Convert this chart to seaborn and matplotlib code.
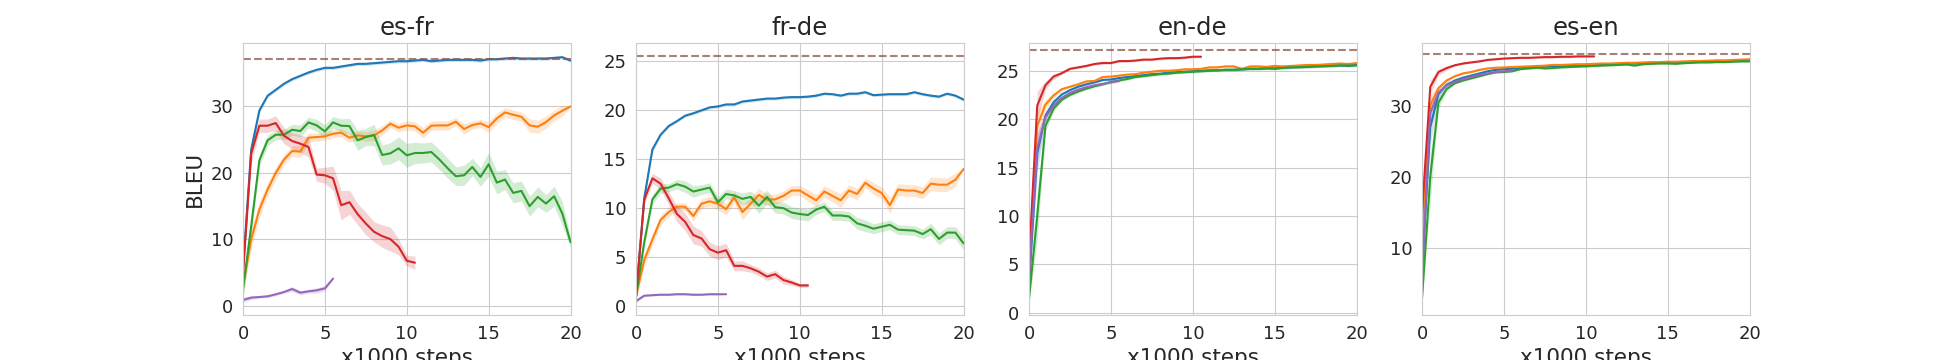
import numpy as np
import seaborn as sns
import matplotlib
matplotlib.use("Agg")
import matplotlib.pyplot as plt

# x axis: evaluation every 500 steps
steps = np.arange(0, 20.5, 0.5)
panels = ["es-fr", "fr-de", "en-de", "es-en"]
baselines = [37.2, 25.6, 27.1, 37.3]

# ---------------- es-fr ----------------
esfr_blue = [5.5, 23.5, 29.4, 31.6, 32.5, 33.4, 34.1, 34.6, 35.1, 35.5, 35.8, 35.8, 36.0, 36.2, 36.4, 36.4, 36.5, 36.6, 36.7, 36.8,
             36.8, 36.9, 37.0, 36.8, 36.9, 37.0, 37.0, 37.0, 37.0, 36.9, 37.1, 37.1, 37.2, 37.3, 37.2, 37.2, 37.2, 37.2, 37.3, 37.4, 36.9]
esfr_orange = [3.0, 10.0, 14.5, 17.5, 20.0, 22.0, 23.3, 23.2, 25.3, 25.4, 25.5, 25.9, 26.05, 25.3, 25.65, 25.5, 25.65, 26.4, 27.4, 26.8,
               27.15, 27.0, 26.05, 27.1, 27.15, 27.15, 27.7, 26.6, 27.2, 27.45, 26.9, 28.2, 29.1, 28.75, 28.45, 27.15, 26.95, 27.65, 28.65, 29.35, 30.0]
esfr_green = [2.5, 12.0, 21.9, 24.9, 25.75, 25.75, 26.5, 26.3, 27.6, 27.15, 26.25, 27.6, 27.1, 27.05, 24.9, 25.4, 25.7, 22.7, 22.95, 23.7,
              22.65, 23.0, 23.0, 23.15, 22.0, 20.7, 19.5, 19.65, 20.9, 19.4, 21.3, 18.55, 19.0, 17.0, 17.3, 15.0, 16.4, 15.4, 16.5, 13.9, 9.6]
esfr_red = [5.0, 22.9, 27.1, 27.1, 27.5, 25.6, 24.8, 24.4, 23.9, 19.75, 19.65, 19.2, 15.15, 15.6, 13.8, 12.4, 11.15, 10.5, 10.05, 8.9, 6.8, 6.5]
esfr_purple = [0.9, 1.25, 1.35, 1.45, 1.75, 2.1, 2.55, 2.0, 2.2, 2.35, 2.65, 4.1]

esfr_blue_sd = [1.0, 1.2, 0.5] + [0.25] * 38
esfr_orange_sd = [1.5, 1.5, 1.2, 1.0, 0.9, 0.8, 0.8, 0.9, 0.7, 0.6, 0.6, 0.6, 0.6, 0.7, 0.7, 0.7, 0.8, 0.7, 0.6, 0.6,
                  0.7, 0.7, 0.8, 0.7, 0.7, 0.7, 0.6, 0.8, 0.6, 0.6, 0.8, 0.8, 0.7, 0.7, 0.7, 1.0, 1.0, 0.9, 0.8, 0.8, 0.0]
esfr_green_sd = [1.5, 1.5, 1.0, 0.8, 0.7, 0.8, 0.8, 0.9, 0.8, 0.9, 1.0, 0.9, 1.0, 1.2, 1.5, 1.3, 1.6, 1.5, 1.6, 1.7,
                 1.8, 1.6, 1.5, 1.5, 1.5, 1.5, 1.4, 1.5, 1.3, 1.4, 1.8, 1.7, 1.5, 1.5, 1.5, 1.5, 1.5, 1.3, 1.5, 1.8, 0.8]
esfr_red_sd = [1.5, 1.5, 1.0, 1.0, 1.1, 1.2, 1.2, 1.3, 1.5, 1.0, 1.2, 1.8, 2.2, 1.8, 1.6, 1.7, 1.5, 1.7, 1.8, 1.2, 0.8, 1.0]
esfr_purple_sd = [0.4, 0.3, 0.2, 0.2, 0.2, 0.2, 0.4, 0.3, 0.3, 0.4, 0.4, 0.0]

# ---------------- fr-de ----------------
frde_blue = [1.0, 11.0, 16.0, 17.5, 18.4, 18.9, 19.45, 19.7, 20.0, 20.3, 20.4, 20.6, 20.6, 20.9, 21.0, 21.1, 21.2, 21.2, 21.3, 21.35,
             21.35, 21.4, 21.5, 21.7, 21.65, 21.5, 21.7, 21.7, 21.85, 21.55, 21.6, 21.65, 21.65, 21.65, 21.85, 21.65, 21.5, 21.4, 21.7, 21.5, 21.1]
frde_orange = [1.0, 4.7, 6.8, 8.8, 9.6, 10.15, 10.15, 9.2, 10.45, 10.7, 10.45, 9.9, 11.1, 9.6, 10.45, 11.35, 10.85, 10.9, 11.25, 11.8,
               11.8, 11.3, 10.8, 11.7, 11.25, 10.8, 11.8, 11.45, 12.6, 12.0, 11.55, 10.3, 11.9, 11.8, 11.8, 11.55, 12.5, 12.4, 12.4, 12.9, 14.0]
frde_green = [1.0, 6.5, 10.9, 12.0, 12.1, 12.45, 12.2, 11.7, 11.9, 12.1, 10.6, 11.45, 11.3, 10.95, 11.15, 10.25, 11.15, 10.1, 10.0, 9.55,
              9.4, 9.3, 9.85, 10.15, 9.25, 9.25, 9.15, 8.45, 8.2, 7.9, 8.1, 8.3, 7.8, 7.75, 7.7, 7.35, 7.85, 6.85, 7.5, 7.5, 6.4]
frde_red = [1.0, 10.85, 13.05, 12.5, 11.0, 9.4, 8.6, 7.25, 6.9, 5.8, 5.45, 5.7, 4.1, 4.1, 3.85, 3.5, 3.0, 3.25, 2.65, 2.4, 2.1, 2.1]
frde_purple = [0.5, 1.05, 1.1, 1.15, 1.15, 1.2, 1.2, 1.15, 1.15, 1.2, 1.2, 1.2]

frde_blue_sd = [0.5, 0.5, 0.3] + [0.15] * 38
frde_orange_sd = [0.5, 0.6, 0.6, 0.5, 0.5, 0.4, 0.4, 0.5, 0.5, 0.5, 0.6, 0.6, 0.6, 0.8, 0.6, 0.7, 0.6, 0.5, 0.5, 0.5,
                  0.5, 0.6, 0.6, 0.6, 0.6, 0.7, 0.6, 0.6, 0.5, 0.6, 0.6, 0.8, 0.6, 0.6, 0.6, 0.6, 0.7, 0.7, 0.7, 0.7, 0.0]
frde_green_sd = [0.5, 0.6, 0.5, 0.5, 0.4, 0.5, 0.6, 0.6, 0.5, 0.5, 0.6, 0.5, 0.5, 0.6, 0.6, 0.8, 0.7, 0.6, 0.6, 0.6,
                 0.6, 0.6, 0.5, 0.5, 0.5, 0.5, 0.5, 0.6, 0.6, 0.5, 0.5, 0.5, 0.5, 0.5, 0.5, 0.5, 0.6, 0.6, 0.6, 0.6, 0.7]
frde_red_sd = [0.5, 0.5, 0.5, 0.6, 0.7, 0.8, 0.9, 0.9, 0.8, 0.7, 0.7, 0.7, 0.5, 0.5, 0.4, 0.4, 0.4, 0.4, 0.4, 0.3, 0.2, 0.2]
frde_purple_sd = [0.16, 0.1, 0.08, 0.08, 0.08, 0.08, 0.08, 0.08, 0.08, 0.08, 0.08, 0.0]

# ---------------- en-de ----------------
ende_blue = [3.0, 16.5, 20.35, 21.75, 22.55, 23.0, 23.35, 23.6, 23.8, 24.05, 24.1, 24.25, 24.35, 24.45, 24.55, 24.65, 24.7, 24.8, 24.85, 24.9,
             24.95, 25.0, 25.05, 25.05, 25.1, 25.1, 25.15, 25.2, 25.2, 25.25, 25.25, 25.3, 25.35, 25.4, 25.4, 25.45, 25.5, 25.5, 25.55, 25.5, 25.6]
ende_orange = [4.0, 19.3, 21.5, 22.45, 23.1, 23.35, 23.6, 23.9, 23.95, 24.35, 24.4, 24.5, 24.6, 24.65, 24.8, 24.9, 25.0, 25.0, 25.05, 25.15,
               25.15, 25.2, 25.35, 25.35, 25.45, 25.45, 25.2, 25.45, 25.45, 25.4, 25.5, 25.45, 25.5, 25.55, 25.6, 25.6, 25.65, 25.7, 25.75, 25.7, 25.8]
ende_green = [1.5, 10.0, 19.3, 21.1, 22.0, 22.5, 22.85, 23.15, 23.4, 23.6, 23.85, 24.0, 24.15, 24.35, 24.45, 24.55, 24.65, 24.7, 24.8, 24.85,
              24.9, 24.95, 25.0, 25.05, 25.1, 25.1, 25.15, 25.2, 25.2, 25.25, 25.2, 25.3, 25.35, 25.35, 25.4, 25.45, 25.45, 25.5, 25.55, 25.55, 25.55]
ende_red = [5.5, 21.4, 23.5, 24.4, 24.75, 25.2, 25.35, 25.5, 25.7, 25.8, 25.8, 26.0, 26.0, 26.05, 26.15, 26.15, 26.25, 26.3, 26.3, 26.35, 26.45, 26.45]
ende_purple = [4.0, 17.0, 20.2, 21.4, 22.2, 22.7, 23.05, 23.3, 23.5, 23.65, 23.8, 23.95]

ende_blue_sd = [1.5, 2.0, 0.5, 0.3] + [0.12] * 37
ende_orange_sd = [1.5, 1.5, 0.5, 0.3] + [0.12] * 37
ende_green_sd = [0.45, 2.5, 0.6, 0.3] + [0.12] * 37
ende_red_sd = [2.0, 1.5, 0.4, 0.3] + [0.12] * 18
ende_purple_sd = [1.5, 1.5, 0.5, 0.3] + [0.12] * 8

# ---------------- es-en ----------------
esen_blue = [7.0, 27.0, 31.7, 33.0, 33.6, 34.0, 34.3, 34.6, 34.9, 35.1, 35.2, 35.25, 35.35, 35.4, 35.5, 35.55, 35.6, 35.65, 35.7, 35.75,
             35.8, 35.85, 35.9, 35.9, 35.95, 36.0, 36.0, 36.05, 36.1, 36.1, 36.15, 36.15, 36.2, 36.2, 36.25, 36.25, 36.3, 36.3, 36.35, 36.35, 36.4]
esen_orange = [12.0, 30.1, 32.5, 33.6, 34.2, 34.6, 34.8, 35.1, 35.3, 35.4, 35.45, 35.5, 35.55, 35.6, 35.65, 35.7, 35.8, 35.8, 35.85, 35.9,
               35.9, 35.95, 36.0, 36.0, 36.05, 36.1, 36.1, 36.15, 36.2, 36.2, 36.25, 36.25, 36.3, 36.35, 36.35, 36.4, 36.45, 36.45, 36.5, 36.55, 36.6]
esen_green = [3.0, 20.0, 30.5, 32.4, 33.2, 33.6, 33.9, 34.2, 34.5, 34.75, 34.8, 34.9, 35.2, 35.3, 35.4, 35.3, 35.35, 35.45, 35.5, 35.55,
              35.6, 35.65, 35.7, 35.75, 35.8, 35.85, 35.7, 35.9, 35.95, 36.0, 36.0, 35.95, 36.05, 36.1, 36.15, 36.15, 36.2, 36.2, 36.25, 36.3, 36.3]
esen_red = [15.0, 32.7, 34.8, 35.35, 35.75, 36.0, 36.15, 36.3, 36.5, 36.6, 36.7, 36.75, 36.8, 36.8, 36.85, 36.9, 36.9, 36.95, 36.95, 37.0, 37.0, 37.0]
esen_purple = [6.0, 29.0, 31.9, 32.9, 33.4, 33.8, 34.1, 34.4, 34.6, 34.8, 34.9, 35.0]

esen_blue_sd = [2.0, 2.5, 0.6, 0.3] + [0.12] * 37
esen_orange_sd = [3.0, 1.5, 0.5, 0.3] + [0.12] * 37
esen_green_sd = [0.75, 3.5, 0.8, 0.3] + [0.12] * 37
esen_red_sd = [3.0, 1.0, 0.4, 0.3] + [0.12] * 18
esen_purple_sd = [2.0, 2.0, 0.5, 0.3] + [0.12] * 8


def draw_run(ax, mean, sd, color):
    '''
    dibuja la media con seaborn y la banda de error alrededor
    '''
    x = steps[:len(mean)]
    m = np.array(mean)
    s = np.array(sd)
    ax.fill_between(x, m - s, m + s, color=color, alpha=0.2, linewidth=0)
    sns.lineplot(x=x, y=m, ax=ax, color=color, linewidth=1.5)


sns.set_style("whitegrid")
plt.rcParams['font.family'] = ['DejaVu Sans']
plt.rcParams['axes.edgecolor'] = '#cccccc'

fig, axes = plt.subplots(1, 4, figsize=(19.44, 3.6), dpi=100)
fig.subplots_adjust(bottom=0.125, top=0.88)

data = [
    [(esfr_blue, esfr_blue_sd), (esfr_orange, esfr_orange_sd), (esfr_green, esfr_green_sd), (esfr_red, esfr_red_sd), (esfr_purple, esfr_purple_sd)],
    [(frde_blue, frde_blue_sd), (frde_orange, frde_orange_sd), (frde_green, frde_green_sd), (frde_red, frde_red_sd), (frde_purple, frde_purple_sd)],
    [(ende_blue, ende_blue_sd), (ende_orange, ende_orange_sd), (ende_green, ende_green_sd), (ende_red, ende_red_sd), (ende_purple, ende_purple_sd)],
    [(esen_blue, esen_blue_sd), (esen_orange, esen_orange_sd), (esen_green, esen_green_sd), (esen_red, esen_red_sd), (esen_purple, esen_purple_sd)],
]
colors = ['C0', 'C1', 'C2', 'C3', 'C4']

for i, ax in enumerate(axes):
    for (mean, sd), c in zip(data[i], colors):
        draw_run(ax, mean, sd, c)
    ax.axhline(baselines[i], color='#8c564b', alpha=0.75, linestyle='--', linewidth=1.5)
    ax.set_xlim(0, 20)
    ax.set_xticks([0, 5, 10, 15, 20])
    ax.set_title(panels[i], fontsize=17.5, color='#262626')
    ax.set_xlabel('x1000 steps', fontsize=15.5, color='#262626')
    ax.set_ylabel('BLEU' if i == 0 else '', fontsize=15.5, color='#262626')
    ax.tick_params(labelsize=13, colors='#262626')

fig.savefig('out.png', dpi=100)
